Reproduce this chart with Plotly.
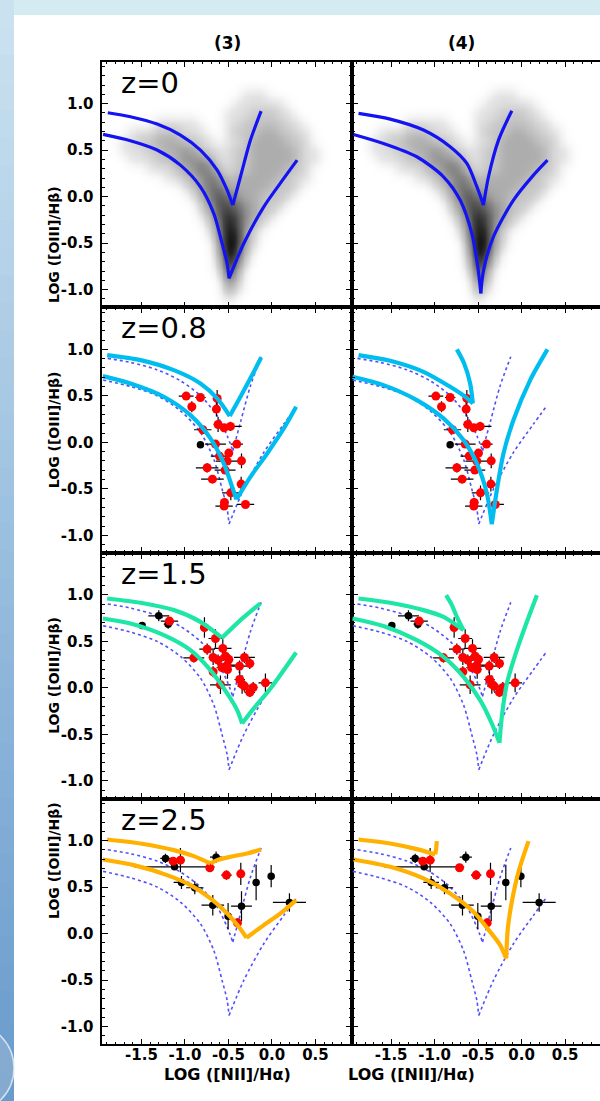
import numpy as np
import plotly.graph_objects as go

# ---------------------------------------------------------------- data
# SDSS cloud density (0 = empty, 9 = densest), rows from y=1.3 down to y=-1.2,
# columns from x=-1.9 to 0.9 in steps of 0.1
CLOUD_X = [round(-1.9 + 0.1 * i, 1) for i in range(29)]
CLOUD_Y = [round(1.3 - 0.1 * j, 1) for j in range(26)]
CLOUD_ROWS = [
    "00000000000000000000000000000",
    "00000000000000000000000000000",
    "00000000000000001110000000000",
    "00000000000000011111100000000",
    "00000000000000111222110000000",
    "00000011111000112222211000000",
    "00011122211100122233221100000",
    "00112233322110112333322100000",
    "00111223343211122333332110000",
    "00011122344431122333332110000",
    "00000111234542122333322100000",
    "00000001123454233333221100000",
    "00000000012455333332221000000",
    "00000000001356543322210000000",
    "00000000000246654322100000000",
    "00000000000136764321000000000",
    "00000000000025864210000000000",
    "00000000000015873100000000000",
    "00000000000004973100000000000",
    "00000000000003962000000000000",
    "00000000000002851000000000000",
    "00000000000001730000000000000",
    "00000000000000520000000000000",
    "00000000000000310000000000000",
    "00000000000000100000000000000",
    "00000000000000000000000000000",
]

# z=0 classification lines, model (3)
z0_c3_upper_left = [(-1.887, 0.902), (-1.627, 0.859), (-1.320, 0.780), (-1.052, 0.662),
                    (-0.822, 0.501), (-0.630, 0.286), (-0.515, 0.071), (-0.450, -0.091)]
z0_c3_upper_right = [(-0.450, -0.091), (-0.362, 0.214), (-0.247, 0.608), (-0.125, 0.920)]
z0_c3_lower_left = [(-1.941, 0.669), (-1.627, 0.601), (-1.320, 0.501), (-1.052, 0.339),
                    (-0.822, 0.106), (-0.669, -0.180), (-0.573, -0.503), (-0.515, -0.718),
                    (-0.493, -0.879)]
z0_c3_lower_right = [(-0.493, -0.879), (-0.324, -0.503), (-0.094, -0.109), (0.136, 0.196),
                     (0.289, 0.393)]
# z=0 classification lines, model (4)
z0_c4_upper_left = [(-1.875, 0.895), (-1.511, 0.834), (-1.128, 0.716), (-0.822, 0.537),
                    (-0.630, 0.357), (-0.515, 0.107), (-0.439, -0.091)]
z0_c4_upper_right = [(-0.439, -0.091), (-0.381, 0.214), (-0.266, 0.608), (-0.113, 0.924)]
z0_c4_lower_left = [(-1.933, 0.669), (-1.588, 0.572), (-1.205, 0.429), (-0.898, 0.214),
                    (-0.707, -0.037), (-0.573, -0.395), (-0.504, -0.754), (-0.469, -1.040)]
z0_c4_lower_right = [(-0.469, -1.040), (-0.438, -0.790), (-0.324, -0.431), (-0.094, -0.037),
                     (0.136, 0.232), (0.297, 0.393)]

# z=0.8
z08_c3_upper_left = [(-1.894, 0.938), (-1.511, 0.884), (-1.128, 0.776), (-0.822, 0.633),
                     (-0.630, 0.472), (-0.485, 0.282)]
z08_c3_upper_right = [(-0.485, 0.282), (-0.362, 0.490), (-0.228, 0.723), (-0.124, 0.912)]
z08_c3_lower_left = [(-1.944, 0.712), (-1.626, 0.633), (-1.243, 0.490), (-0.937, 0.292),
                     (-0.707, 0.042), (-0.554, -0.227), (-0.458, -0.478), (-0.408, -0.614)]
z08_c3_lower_right = [(-0.408, -0.614), (-0.247, -0.371), (-0.055, -0.120), (0.136, 0.149),
                      (0.278, 0.382)]
z08_c4_upper_left = [(-1.875, 0.938), (-1.511, 0.877), (-1.128, 0.758), (-0.822, 0.597),
                     (-0.649, 0.490), (-0.561, 0.418)]
z08_c4_upper_hook = [(-0.745, 0.999), (-0.661, 0.848), (-0.592, 0.633), (-0.561, 0.418)]
z08_c4_lower_left = [(-1.944, 0.705), (-1.588, 0.615), (-1.205, 0.454), (-0.898, 0.257),
                     (-0.668, 0.024), (-0.515, -0.227), (-0.400, -0.550), (-0.343, -0.880)]
z08_c4_lower_right = [(-0.343, -0.880), (-0.285, -0.514), (-0.209, -0.120), (-0.094, 0.239),
                      (0.098, 0.669), (0.297, 0.999)]

# z=1.5
z15_c3_upper_left = [(-1.894, 0.962), (-1.511, 0.916), (-1.128, 0.837), (-0.822, 0.711),
                     (-0.573, 0.539)]
z15_c3_upper_right = [(-0.573, 0.539), (-0.362, 0.729), (-0.132, 0.909)]
z15_c3_lower_left = [(-1.944, 0.747), (-1.626, 0.693), (-1.243, 0.568), (-0.937, 0.407),
                     (-0.707, 0.192), (-0.515, -0.059), (-0.400, -0.238), (-0.343, -0.382)]
z15_c3_lower_right = [(-0.343, -0.382), (-0.209, -0.220), (-0.017, -0.005), (0.278, 0.382)]
z15_c4_upper_left = [(-1.875, 0.962), (-1.511, 0.916), (-1.128, 0.837), (-0.898, 0.765),
                     (-0.668, 0.622)]
z15_c4_upper_hook = [(-0.868, 0.998), (-0.802, 0.891), (-0.745, 0.765), (-0.668, 0.622)]
z15_c4_lower_left = [(-1.944, 0.747), (-1.588, 0.665), (-1.205, 0.514), (-0.898, 0.335),
                     (-0.668, 0.120), (-0.477, -0.131), (-0.343, -0.382), (-0.255, -0.590)]
z15_c4_lower_right = [(-0.255, -0.590), (-0.228, -0.310), (-0.170, 0.048), (-0.055, 0.407),
                      (0.060, 0.711), (0.175, 0.998)]

# z=2.5
z25_c3_upper_left = [(-1.894, 1.012), (-1.511, 0.969), (-1.128, 0.898), (-0.898, 0.833),
                     (-0.707, 0.754)]
z25_c3_upper_right = [(-0.707, 0.754), (-0.630, 0.790), (-0.477, 0.826), (-0.285, 0.862),
                      (-0.124, 0.905)]
z25_c3_lower_left = [(-1.944, 0.797), (-1.588, 0.736), (-1.205, 0.629), (-0.937, 0.521),
                     (-0.707, 0.378), (-0.515, 0.217), (-0.381, 0.073), (-0.293, -0.045)]
z25_c3_lower_right = [(-0.293, -0.045), (-0.094, 0.091), (0.098, 0.217), (0.278, 0.360)]
z25_c4_upper_left = [(-1.875, 1.012), (-1.511, 0.969), (-1.205, 0.908), (-0.994, 0.851)]
z25_c4_upper_hook = [(-0.975, 0.994), (-0.983, 0.915), (-0.994, 0.851)]
z25_c4_lower_left = [(-1.933, 0.797), (-1.511, 0.718), (-1.128, 0.593), (-0.822, 0.432),
                     (-0.554, 0.234), (-0.362, 0.019), (-0.247, -0.124), (-0.178, -0.267)]
z25_c4_lower_right = [(-0.178, -0.267), (-0.159, 0.055), (-0.113, 0.342), (-0.036, 0.665),
                      (0.079, 0.994)]

# Observed galaxies: kind 1 = red, 0 = black
z08_x = [-0.986, -0.822, -0.921, -0.630, -0.638, -0.795, -0.619, -0.550, -0.477, -0.822,
         -0.649, -0.404, -0.496, -0.603, -0.515, -0.350, -0.745, -0.538, -0.684, -0.354,
         -0.473, -0.546, -0.550, -0.304]
z08_y = [0.497, 0.482, 0.382, 0.472, 0.357, 0.135, 0.192, 0.156, 0.171, -0.027,
         -0.019, -0.019, -0.116, -0.148, -0.202, -0.199, -0.274, -0.299, -0.396, -0.449,
         -0.543, -0.647, -0.686, -0.668]
z08_xerr = [0.085, 0.06, 0.03, 0.03, 0.03, 0.10, 0.05, 0.05, 0.13, 0.0,
            0.12, 0.07, 0.04, 0.10, 0.13, 0.03, 0.13, 0.12, 0.13, 0.03,
            0.10, 0.05, 0.10, 0.10]
z08_yerr = [0.03, 0.03, 0.06, 0.09, 0.08, 0.04, 0.08, 0.03, 0.05, 0.0,
            0.03, 0.03, 0.04, 0.03, 0.03, 0.08, 0.05, 0.04, 0.02, 0.08,
            0.08, 0.05, 0.04, 0.03]
z08_kind = [1, 1, 1, 1, 1, 1, 1, 1, 1, 0,
            1, 1, 1, 1, 1, 1, 1, 1, 1, 1,
            1, 1, 1, 1]

z15_x = [-1.492, -1.301, -1.193, -1.178, -0.776, -0.649, -0.745, -0.898, -0.676, -0.565,
         -0.619, -0.534, -0.496, -0.515, -0.576, -0.511, -0.676, -0.373, -0.316, -0.255,
         -0.592, -0.370, -0.343, -0.316, -0.255, -0.216, -0.075]
z15_y = [0.672, 0.776, 0.686, 0.719, 0.650, 0.532, 0.417, 0.324, 0.328, 0.425,
         0.299, 0.342, 0.306, 0.245, 0.220, 0.199, 0.174, 0.235, 0.328, 0.263,
         0.034, 0.091, 0.038, 0.020, -0.048, 0.005, 0.055]
z15_xerr = [0.02, 0.12, 0.05, 0.10, 0.05, 0.08, 0.09, 0.12, 0.05, 0.10,
            0.07, 0.06, 0.05, 0.10, 0.06, 0.05, 0.04, 0.10, 0.12, 0.05,
            0.12, 0.06, 0.05, 0.08, 0.06, 0.05, 0.08]
z15_yerr = [0.02, 0.06, 0.05, 0.04, 0.11, 0.10, 0.06, 0.05, 0.08, 0.10,
            0.06, 0.08, 0.06, 0.08, 0.05, 0.10, 0.06, 0.06, 0.06, 0.06,
            0.10, 0.08, 0.10, 0.06, 0.05, 0.06, 0.10]
z15_kind = [0, 0, 0, 1, 1, 1, 1, 1, 1, 1,
            1, 1, 1, 1, 1, 1, 1, 1, 1, 1,
            1, 1, 1, 1, 1, 1, 1]

z25_x = [-1.224, -1.120, -1.040, -0.887, -0.642, -0.680, -0.504, -0.350, -0.182, -0.009,
         0.201, -1.136, -1.052, -0.714, -0.523, -0.358, -0.396]
z25_y = [0.808, 0.718, 0.550, 0.493, 0.822, 0.306, 0.188, 0.295, 0.550, 0.618,
         0.335, 0.779, 0.790, 0.708, 0.629, 0.643, 0.116]
z25_xerr = [0.06, 0.46, 0.09, 0.10, 0.07, 0.13, 0.03, 0.12, 0.02, 0.02,
            0.19, 0.03, 0.05, 0.03, 0.06, 0.03, 0.02]
z25_yerr = [0.05, 0.03, 0.07, 0.07, 0.06, 0.11, 0.14, 0.16, 0.19, 0.12,
            0.10, 0.03, 0.13, 0.03, 0.05, 0.12, 0.05]
z25_kind = [0, 0, 0, 0, 0, 0, 0, 0, 0, 0,
            0, 1, 1, 1, 1, 1, 1]

X_TICKS = [-1.5, -1.0, -0.5, 0.0, 0.5]
X_TICK_TEXT = ["-1.5", "-1.0", "-0.5", "0.0", "0.5"]
Y_TICKS = [-1.0, -0.5, 0.0, 0.5, 1.0]
Y_TICK_TEXT = ["-1.0", "-0.5", "0.0", "0.5", "1.0"]
COLUMN_TITLES = ["(3)", "(4)"]
ROW_LABELS = ["z=0", "z=0.8", "z=1.5", "z=2.5"]

# ---------------------------------------------------------------- layout geometry
W, H = 600, 1101
COL_PX = [(102.3, 352.0), (352.0, 600.0)]
ROW_TOP, ROW_H = 61.7, 245.65
X_MIN, PX_PER_UNIT = -1.95, 87.0
Y_RANGE = [-1.19, 1.451]

LINE_COLORS = ["#1414f2", "#00bdf0", "#1de6a6", "#ffb000"]
REF_DOT = "rgb(80,80,255)"
BOLD = dict(family="DejaVu Sans", size=15, color="black", weight="bold")

fig = go.Figure()


def ids(r, c):
    n = r * 2 + c + 1
    return ("x" if n == 1 else f"x{n}"), ("y" if n == 1 else f"y{n}"), n


def curve(pts, xa, ya, color, width, dash="solid"):
    fig.add_trace(go.Scatter(
        x=[p[0] for p in pts], y=[p[1] for p in pts], xaxis=xa, yaxis=ya,
        mode="lines", line=dict(color=color, width=width, dash=dash,
                                shape="spline", smoothing=0.8),
        hoverinfo="skip", showlegend=False))


def points(xs, ys, xe, ye, kinds, xa, ya):
    for kind, color, size in ((0, "black", 7.5), (1, "#ff0000", 9)):
        idx = [i for i, k in enumerate(kinds) if k == kind]
        if not idx:
            continue
        fig.add_trace(go.Scatter(
            x=[xs[i] for i in idx], y=[ys[i] for i in idx], xaxis=xa, yaxis=ya,
            mode="markers", marker=dict(color=color, size=size),
            error_x=dict(type="data", array=[xe[i] for i in idx], color="black",
                         thickness=1.2, width=0),
            error_y=dict(type="data", array=[ye[i] for i in idx], color="black",
                         thickness=1.2, width=0),
            hoverinfo="skip", showlegend=False))


# Smooth the density table onto a finer grid for display
def smooth_cloud(rows, xs, ys, factor=5, sigma=2.5):
    z = np.array([[int(ch) for ch in row] for row in rows], dtype=float)
    ny, nx = z.shape
    fx = np.linspace(0, nx - 1, (nx - 1) * factor + 1)
    fy = np.linspace(0, ny - 1, (ny - 1) * factor + 1)
    zx = np.array([np.interp(fx, np.arange(nx), row) for row in z])
    zf = np.array([np.interp(fy, np.arange(ny), col) for col in zx.T]).T
    r = int(3 * sigma)
    k = np.exp(-0.5 * (np.arange(-r, r + 1) / sigma) ** 2)
    k /= k.sum()
    for axis in (0, 1):
        zf = np.apply_along_axis(
            lambda m: np.convolve(np.pad(m, r, mode="edge"), k, "valid"), axis, zf)
    gx = np.interp(fx, np.arange(nx), xs)
    gy = np.interp(fy, np.arange(ny), ys)
    return gx, gy, zf


cloud_gx, cloud_gy, cloud_z = smooth_cloud(CLOUD_ROWS, CLOUD_X, CLOUD_Y)
CLOUD_SCALE = [[0.0, "rgb(255,255,255)"], [0.05, "rgb(244,244,244)"],
               [0.15, "rgb(218,218,218)"], [0.3, "rgb(188,188,188)"],
               [0.45, "rgb(158,158,158)"], [0.6, "rgb(120,120,120)"],
               [0.75, "rgb(78,78,78)"], [0.9, "rgb(36,36,36)"], [1.0, "rgb(10,10,10)"]]

model_lines = {
    (0, 0): [z0_c3_upper_left, z0_c3_upper_right, z0_c3_lower_left, z0_c3_lower_right],
    (0, 1): [z0_c4_upper_left, z0_c4_upper_right, z0_c4_lower_left, z0_c4_lower_right],
    (1, 0): [z08_c3_upper_left, z08_c3_upper_right, z08_c3_lower_left, z08_c3_lower_right],
    (1, 1): [z08_c4_upper_left, z08_c4_upper_hook, z08_c4_lower_left, z08_c4_lower_right],
    (2, 0): [z15_c3_upper_left, z15_c3_upper_right, z15_c3_lower_left, z15_c3_lower_right],
    (2, 1): [z15_c4_upper_left, z15_c4_upper_hook, z15_c4_lower_left, z15_c4_lower_right],
    (3, 0): [z25_c3_upper_left, z25_c3_upper_right, z25_c3_lower_left, z25_c3_lower_right],
    (3, 1): [z25_c4_upper_left, z25_c4_upper_hook, z25_c4_lower_left, z25_c4_lower_right],
}
reference_lines = [z0_c3_upper_left, z0_c3_upper_right, z0_c3_lower_left, z0_c3_lower_right]
samples = {
    1: (z08_x, z08_y, z08_xerr, z08_yerr, z08_kind),
    2: (z15_x, z15_y, z15_xerr, z15_yerr, z15_kind),
    3: (z25_x, z25_y, z25_xerr, z25_yerr, z25_kind),
}

for r in range(4):
    for c in range(2):
        xa, ya, n = ids(r, c)
        if r == 0:
            fig.add_trace(go.Heatmap(
                x=cloud_gx, y=cloud_gy, z=cloud_z, xaxis=xa, yaxis=ya,
                zmin=0, zmax=8, zsmooth="best", showscale=False,
                colorscale=CLOUD_SCALE, hoverinfo="skip"))
        else:
            for pts in reference_lines:
                curve(pts, xa, ya, REF_DOT, 1.6, dash="dot")
            points(*samples[r], xa, ya)
        for pts in model_lines[(r, c)]:
            curve(pts, xa, ya, LINE_COLORS[r], 3.2 if r == 0 else 4.2)

        x0, x1 = COL_PX[c]
        top = ROW_TOP + r * ROW_H
        axis_common = dict(
            showline=True, linecolor="black", linewidth=1.5,
            ticks="inside", ticklen=6, tickwidth=1.3, tickcolor="black",
            showgrid=False, zeroline=False, automargin=False, tickfont=BOLD,
            tickmode="array",
            minor=dict(ticks="inside", ticklen=3, tickwidth=1, tickcolor="black",
                       tickmode="linear", tick0=0, dtick=0.1, showgrid=False),
        )
        fig.layout[("xaxis" if n == 1 else f"xaxis{n}")] = dict(
            axis_common, mirror="ticks", domain=[x0 / W, x1 / W],
            range=[X_MIN, X_MIN + (x1 - x0) / PX_PER_UNIT],
            tickvals=X_TICKS, ticktext=X_TICK_TEXT, showticklabels=(r == 3),
            ticklabelstandoff=-4, anchor=ya)
        fig.layout[("yaxis" if n == 1 else f"yaxis{n}")] = dict(
            axis_common, mirror=("ticks" if c == 0 else False),
            domain=[1 - (top + ROW_H) / H, 1 - top / H], range=Y_RANGE,
            tickvals=Y_TICKS, ticktext=Y_TICK_TEXT, showticklabels=(c == 0),
            ticklabelstandoff=4, anchor=xa)

# ---------------------------------------------------------------- text
ann = []
for c, title in enumerate(COLUMN_TITLES):
    cx = (COL_PX[c][0] + COL_PX[c][0] + 250) / 2 / W
    ann.append(dict(text=title, x=cx, y=1 - 43 / H, xref="paper", yref="paper",
                    yanchor="middle", showarrow=False, font=dict(BOLD, size=17)))
    ann.append(dict(text="LOG ([NII]/Hα)", x=cx, y=1 - 1086 / H, xref="paper",
                    yref="paper", showarrow=False, font=dict(BOLD, size=16)))
for r, label in enumerate(ROW_LABELS):
    top = ROW_TOP + r * ROW_H
    ann.append(dict(text="LOG ([OIII]/Hβ)", x=44 / W, y=1 - (top + ROW_H / 2) / H,
                    xref="paper", yref="paper", showarrow=False, textangle=-90,
                    font=dict(BOLD, size=14)))
    ann.append(dict(text=label, x=119 / W, y=1 - (top + 2) / H, xref="paper",
                    yref="paper", xanchor="left", yanchor="top", showarrow=False,
                    font=dict(family="DejaVu Sans", size=29, color="black")))

# ---------------------------------------------------------------- slide backdrop
shapes = [dict(type="rect", xref="paper", yref="paper", x0=0, x1=1,
               y0=1 - 15 / H, y1=1, fillcolor="#d5ebf2", line_width=0, layer="below")]
N = 40
top_rgb, bot_rgb = (202, 226, 240), (105, 155, 205)
for i in range(N):
    t = i / (N - 1)
    col = tuple(round(a + (b - a) * t) for a, b in zip(top_rgb, bot_rgb))
    shapes.append(dict(type="rect", xref="paper", yref="paper", x0=0, x1=14 / W,
                       y0=1 - (i + 1) / N - 0.001, y1=1 - i / N,
                       fillcolor=f"rgb{col}", line_width=0, layer="below"))
shapes.append(dict(type="circle", xref="paper", yref="paper",
                   x0=-76 / W, x1=14 / W, y0=1 - 1113 / H, y1=1 - 1023 / H,
                   fillcolor="rgba(150,180,210,0.6)",
                   line=dict(color="rgba(230,242,250,0.8)", width=1.5), layer="below"))

fig.update_layout(
    width=W, height=H, margin=dict(l=0, r=0, t=0, b=0),
    paper_bgcolor="white", plot_bgcolor="white",
    annotations=ann, shapes=shapes, showlegend=False,
)

fig.write_html("out.html")
